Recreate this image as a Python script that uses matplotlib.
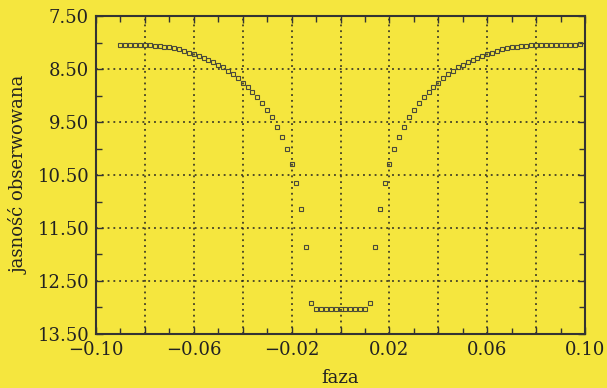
import matplotlib
matplotlib.use("Agg")
import matplotlib.pyplot as plt
from matplotlib.ticker import FixedLocator, FixedFormatter

phase = [-0.090, -0.088, -0.086, -0.084, -0.082, -0.080, -0.078, -0.076, -0.074, -0.072,
         -0.070, -0.068, -0.066, -0.064, -0.062, -0.060, -0.058, -0.056, -0.054, -0.052,
         -0.050, -0.048, -0.046, -0.044, -0.042, -0.040, -0.038, -0.036, -0.034, -0.032,
         -0.030, -0.028, -0.026, -0.024, -0.022, -0.020, -0.018, -0.016, -0.014, -0.012,
         -0.010, -0.008, -0.006, -0.004, -0.002, 0.000, 0.002, 0.004, 0.006, 0.008,
         0.010, 0.012, 0.014, 0.016, 0.018, 0.020, 0.022, 0.024, 0.026, 0.028,
         0.030, 0.032, 0.034, 0.036, 0.038, 0.040, 0.042, 0.044, 0.046, 0.048,
         0.050, 0.052, 0.054, 0.056, 0.058, 0.060, 0.062, 0.064, 0.066, 0.068,
         0.070, 0.072, 0.074, 0.076, 0.078, 0.080, 0.082, 0.084, 0.086, 0.088,
         0.090, 0.092, 0.094, 0.096, 0.098]

magnitude = [8.04, 8.04, 8.04, 8.04, 8.04, 8.04, 8.05, 8.06, 8.07, 8.08,
             8.09, 8.11, 8.13, 8.16, 8.19, 8.22, 8.25, 8.29, 8.33, 8.37,
             8.42, 8.47, 8.53, 8.60, 8.67, 8.755, 8.84, 8.93, 9.03, 9.14,
             9.27, 9.41, 9.59, 9.79, 10.01, 10.30, 10.66, 11.15, 11.86, 12.92,
             13.03, 13.03, 13.03, 13.03, 13.03, 13.03, 13.03, 13.03, 13.03, 13.03,
             13.03, 12.92, 11.86, 11.15, 10.66, 10.30, 10.01, 9.79, 9.59, 9.41,
             9.27, 9.14, 9.03, 8.93, 8.84, 8.755, 8.67, 8.60, 8.53, 8.47,
             8.42, 8.37, 8.33, 8.29, 8.25, 8.22, 8.19, 8.16, 8.13, 8.11,
             8.09, 8.08, 8.07, 8.06, 8.05, 8.04, 8.04, 8.04, 8.04, 8.04,
             8.04, 8.04, 8.04, 8.04, 8.03]

x_major = [-0.10, -0.08, -0.06, -0.04, -0.02, 0.00, 0.02, 0.04, 0.06, 0.08, 0.10]
x_labels = ["\u22120.10", "", "\u22120.06", "", "\u22120.02", "", "0.02", "", "0.06", "", "0.10"]
y_major = [7.5, 8.5, 9.5, 10.5, 11.5, 12.5, 13.5]
y_labels = ["7.50", "8.50", "9.50", "10.50", "11.50", "12.50", "13.50"]

bg = "#F5E63E"
ink = "#333333"

plt.rcParams["font.family"] = ["DejaVu Serif"]

fig = plt.figure(figsize=(6.07, 3.88), dpi=100, facecolor=bg)
ax = fig.add_axes([96 / 607, 1 - 334 / 388, (585 - 96) / 607, (334 - 16) / 388])
ax.set_facecolor(bg)

ax.plot(phase, magnitude, linestyle="none", marker="s", markersize=3.4,
        markerfacecolor="none", markeredgecolor="#4a4a3a", markeredgewidth=0.8, zorder=3)

ax.set_xlim(-0.10, 0.10)
ax.set_ylim(13.5, 7.5)

ax.xaxis.set_major_locator(FixedLocator(x_major))
ax.xaxis.set_major_formatter(FixedFormatter(x_labels))
ax.xaxis.set_minor_locator(FixedLocator([v + 0.01 for v in x_major[:-1]]))
ax.yaxis.set_major_locator(FixedLocator(y_major))
ax.yaxis.set_major_formatter(FixedFormatter(y_labels))
ax.yaxis.set_minor_locator(FixedLocator([v + 0.5 for v in y_major[:-1]]))

ax.tick_params(which="both", direction="in", top=True, right=True, color=ink,
               labelsize=13, labelcolor="#222222", width=1.0)
ax.tick_params(which="major", length=5, pad=5)
ax.tick_params(which="minor", length=4)

ax.grid(True, which="major", linestyle=(0, (1.2, 2.6)), color="#222222", linewidth=1.1)

for s in ax.spines.values():
    s.set_color(ink)
    s.set_linewidth(1.5)

ax.set_xlabel("faza", fontsize=13, color="#222222", labelpad=7)
ax.set_ylabel("jasność obserwowana", fontsize=13, color="#222222", labelpad=6)

fig.savefig("out.png", dpi=100, facecolor=bg)
